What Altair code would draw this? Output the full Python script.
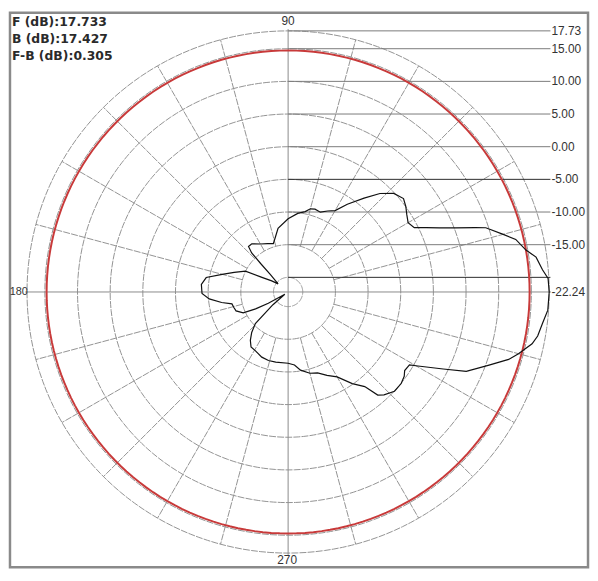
import altair as alt
import pandas as pd

# ---------------- data ----------------
header_lines = ["F (dB):17.733", "B (dB):17.427", "F-B (dB):0.305"]

center_db = -22.24          # value at the pole
outer_db = 17.73            # outer ring (max)
ring_levels = [-20, -15, -10, -5, 0, 5, 10, 15, 17.73]
ref_ring_db = 14.73         # red ring (max - 3 dB)
spoke_angles = [a for a in range(0, 360, 15) if a % 90 != 0]
spoke_inner_db = -15
axis_extent_db = 18.0

scale_levels = [17.73, 15, 10, 5, 0, -5, -10, -15, -20]
label_levels = [17.73, 15, 10, 5, 0, -5, -10, -15, -22.24]
label_texts = ["17.73", "15.00", "10.00", "5.00", "0.00", "-5.00", "-10.00", "-15.00", "-22.24"]

dir_texts = ["90", "270"]
dir_x = [0, -1]
dir_y = [274, -271]

pattern_angle = [0, 3, 5, 8, 10, 13, 15, 18, 19, 21, 23, 25, 27, 30, 33, 36, 39, 43, 47, 51,
                 56, 60, 64, 68, 72, 75, 78, 83, 90, 99, 103, 107, 113, 120, 127, 131, 133, 134,
                 135.5, 141, 146, 151, 154, 160, 165, 170, 175, 181, 185, 189, 192, 196, 200, 205,
                 207.5, 209.5, 214, 220, 224, 228, 232, 236, 241, 248, 254, 260, 270, 275, 279,
                 285, 290, 295, 300, 305, 309, 311, 313, 317, 321, 324, 326, 329, 330, 333.6, 336,
                 340, 343, 345, 348, 350, 353, 356, 360]
pattern_db = [17.73, 17.61, 16.85, 16.09, 14.73, 13.52, 11.85, 9.58, 8.06, 5.18, 2.91, 1.09, -0.57,
              -1.03, -0.57, 0.03, 0.49, -0.12, -1.63, -3.76, -6.03, -7.85, -8.45, -9.06, -8.91,
              -9.06, -9.66, -10.12, -11.03, -12.39, -13.6, -14.51, -14.2, -13.76, -13.0, -13.0,
              -14.06, -16.18, -18.45, -20.27, -19.21, -17.54, -14.97, -13.45, -11.79, -9.51, -8.91,
              -9.06, -10.12, -11.94, -13.45, -13.6, -13.76, -14.66, -16.63, -18.76, -21.63, -19.21,
              -15.27, -13.91, -12.85, -12.09, -11.94, -11.48, -11.33, -11.33, -11.33, -11.03,
              -10.12, -9.36, -9.06, -8.15, -7.24, -5.12, -3.60, -1.33, -0.72, 0.03, 0.03, -0.27,
              -0.72, -0.57, 0.34, 4.27, 7.61, 10.49, 13.06, 14.27, 15.94, 16.55, 17.0, 17.61, 17.73]

# ---------------- layout ----------------
K = 6.6                      # px per dB
W, H = 586, 562
CX, CY = 282, 283            # pole position in chart pixels
xs = alt.Scale(domain=[-CX, W - CX], nice=False, zero=False)
ys = alt.Scale(domain=[CY - H, CY], nice=False, zero=False)
X = alt.X("x:Q", scale=xs, axis=None)
Y = alt.Y("y:Q", scale=ys, axis=None)

r_of = lambda f: f"(datum.{f} - ({center_db})) * {K}"
cosd = "cos(datum.angle * PI / 180)"
sind = "sin(datum.angle * PI / 180)"

GRID = "#939393"
DASH = [7, 1.2]
FONT = "Liberation Sans"

# border
border = alt.Chart(pd.DataFrame({"a": [0]})).mark_rect(
    fillOpacity=0, stroke="#8a8a8a", strokeWidth=2.5
).encode(x=alt.value(1), x2=alt.value(W - 1), y=alt.value(1), y2=alt.value(H - 1))

# rings
ring_angles = list(range(0, 361, 2))
rings_df = pd.DataFrame([(lv, a) for lv in ring_levels for a in ring_angles], columns=["db", "angle"])
rings = alt.Chart(rings_df).transform_calculate(
    r=r_of("db")
).transform_calculate(
    x=f"datum.r * {cosd}", y=f"datum.r * {sind}"
).mark_line(color=GRID, strokeWidth=1, strokeDash=DASH).encode(
    x=X, y=Y, detail="db:N", order="angle:Q"
)

red_df = pd.DataFrame({"db": [ref_ring_db] * len(ring_angles), "angle": ring_angles})
red = alt.Chart(red_df).transform_calculate(
    r=r_of("db")
).transform_calculate(
    x=f"datum.r * {cosd}", y=f"datum.r * {sind}"
).mark_line(color="#c83a3a", strokeWidth=2).encode(x=X, y=Y, order="angle:Q")

# spokes
spokes_df = pd.DataFrame({"angle": spoke_angles, "db1": spoke_inner_db, "db2": outer_db})
spokes = alt.Chart(spokes_df).transform_calculate(
    r1=r_of("db1"), r2=r_of("db2")
).transform_calculate(
    x=f"datum.r1 * {cosd}", y=f"datum.r1 * {sind}",
    x2=f"datum.r2 * {cosd}", y2=f"datum.r2 * {sind}",
).mark_rule(color=GRID, strokeWidth=1, strokeDash=DASH).encode(
    x=X, y=Y, x2="x2:Q", y2="y2:Q"
)

# main axes (0-180 and 90-270)
axes_df = pd.DataFrame({"angle": [0, 90], "db": axis_extent_db})
axes = alt.Chart(axes_df).transform_calculate(
    r=r_of("db")
).transform_calculate(
    x=f"-datum.r * {cosd}", y=f"-datum.r * {sind}",
    x2=f"datum.r * {cosd}", y2=f"datum.r * {sind}",
).mark_rule(color="#8a8a8a", strokeWidth=1).encode(x=X, y=Y, x2="x2:Q", y2="y2:Q")

# level lines to the right
lv_df = pd.DataFrame({"db": scale_levels})
level_lines = alt.Chart(lv_df).transform_calculate(
    y=r_of("db"), x="0"
).mark_rule(strokeWidth=1).encode(
    x=X, y=Y, x2=alt.value(547),
    color=alt.condition("datum.db == -5 || datum.db == -20", alt.value("#2a2a2a"), alt.value("#7a7a7a")),
)

lab_df = pd.DataFrame({"db": label_levels, "t": label_texts})
level_labels = alt.Chart(lab_df).transform_calculate(
    y=r_of("db")
).mark_text(align="left", baseline="middle", font=FONT, fontSize=12, color="#333333").encode(
    x=alt.value(548), y=Y, text="t:N"
)

# pattern
pat_df = pd.DataFrame({"angle": pattern_angle, "db": pattern_db, "i": range(len(pattern_db))})
pattern = alt.Chart(pat_df).transform_calculate(
    r=r_of("db")
).transform_calculate(
    x=f"datum.r * {cosd}", y=f"datum.r * {sind}"
).mark_line(color="#111111", strokeWidth=1.2).encode(x=X, y=Y, order="i:Q")

# direction labels
dir_df = pd.DataFrame({"t": dir_texts, "x": dir_x, "y": dir_y})
dir_labels = alt.Chart(dir_df).mark_text(
    align="center", baseline="middle", font=FONT, fontSize=12, color="#333333"
).encode(x=X, y=Y, text="t:N")
lab180 = alt.Chart(pd.DataFrame({"t": ["180"], "x": [-263], "y": [0]})).mark_text(
    align="right", baseline="middle", font=FONT, fontSize=11, color="#333333"
).encode(x=X, y=Y, text="t:N")

# header
hdr_df = pd.DataFrame({"t": header_lines, "i": range(len(header_lines))})
header = alt.Chart(hdr_df).transform_calculate(
    x="-279", y="273 - 17.5 * datum.i"
).mark_text(
    align="left", baseline="middle", font="DejaVu Sans", fontSize=12.5, fontWeight="bold", color="#2a2a2a"
).encode(x=X, y=Y, text="t:N")

chart = alt.layer(
    border, rings, spokes, axes, level_lines, red, pattern, level_labels, dir_labels, lab180, header
).properties(width=W, height=H, padding=0, background="white").configure_view(strokeWidth=0)

chart.save("out.html", embed_options={"renderer": "svg", "actions": False})
